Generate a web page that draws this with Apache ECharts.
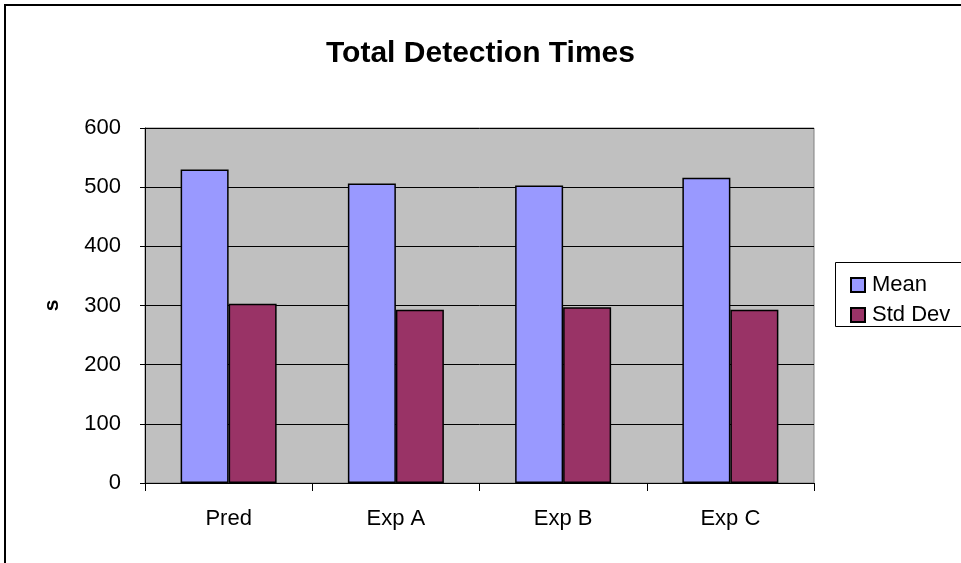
<!DOCTYPE html>
<html>
<head>
    <meta charset="utf-8">
    <title>Total Detection Times</title>
    <script src="https://cdn.jsdelivr.net/npm/echarts@6/dist/echarts.min.js"></script>
</head>
<body style="margin:0;background:#fff">
<div id="main" style="width:961px;height:563px"></div>
<script type="text/javascript">
    // data
    var categories = ['Pred', 'Exp A', 'Exp B', 'Exp C'];
    var meanValues = [530, 506, 503, 516];
    var stdDevValues = [303, 293, 297, 293];

    var font = '"Liberation Sans", Arial, sans-serif';
    var myChart = echarts.init(document.getElementById('main'));

    myChart.setOption({
        animation: false,
        textStyle: { fontFamily: font },
        title: {
            text: 'Total Detection Times',
            left: 'center',
            top: 34,
            textStyle: { fontSize: 30, fontWeight: 'bold', color: '#000', fontFamily: font }
        },
        graphic: [
            // outer chart border (cut at right and bottom)
            { type: 'rect', shape: { x: 5, y: 5, width: 1000, height: 700 },
              style: { fill: 'none', stroke: '#000', lineWidth: 2 }, z: -1 },
            // legend box
            { type: 'rect', shape: { x: 835.5, y: 262.5, width: 200, height: 64 },
              style: { fill: '#fff', stroke: '#000', lineWidth: 1 }, z: 1 }
        ],
        legend: {
            orient: 'vertical',
            left: 845,
            top: 269,
            icon: 'rect',
            itemWidth: 14,
            itemHeight: 14,
            itemGap: 8,
            z: 5,
            textStyle: { fontSize: 22, color: '#000', fontFamily: font, padding: [0, 0, 0, 2] },
            data: ['Mean', 'Std Dev']
        },
        grid: {
            left: 145,
            right: 147,
            top: 128,
            bottom: 80,
            show: true,
            backgroundColor: '#C0C0C0',
            borderColor: '#808080',
            borderWidth: 1
        },
        xAxis: {
            type: 'category',
            data: categories,
            axisLine: { lineStyle: { color: '#000' } },
            axisTick: { show: true, length: 8, lineStyle: { color: '#000' } },
            axisLabel: { margin: 25, fontSize: 22, color: '#000' }
        },
        yAxis: {
            type: 'value',
            min: 0,
            max: 600,
            interval: 100,
            name: 's',
            nameLocation: 'middle',
            nameRotate: 90,
            nameGap: 82,
            nameTextStyle: { fontSize: 21, fontWeight: 'bold', color: '#000' },
            axisLine: { show: true, lineStyle: { color: '#000' } },
            axisTick: { show: true, length: 5, lineStyle: { color: '#000' } },
            axisLabel: { margin: 24, fontSize: 22, color: '#000' },
            splitLine: { lineStyle: { color: '#000', width: 1 } }
        },
        series: [
            {
                name: 'Mean',
                type: 'bar',
                data: meanValues,
                barWidth: 48,
                barGap: '0%',
                itemStyle: { color: '#9999FF', borderColor: '#000', borderWidth: 1.5 }
            },
            {
                name: 'Std Dev',
                type: 'bar',
                data: stdDevValues,
                barWidth: 48,
                itemStyle: { color: '#993366', borderColor: '#000', borderWidth: 1.5 }
            }
        ]
    });
</script>
</body>
</html>
